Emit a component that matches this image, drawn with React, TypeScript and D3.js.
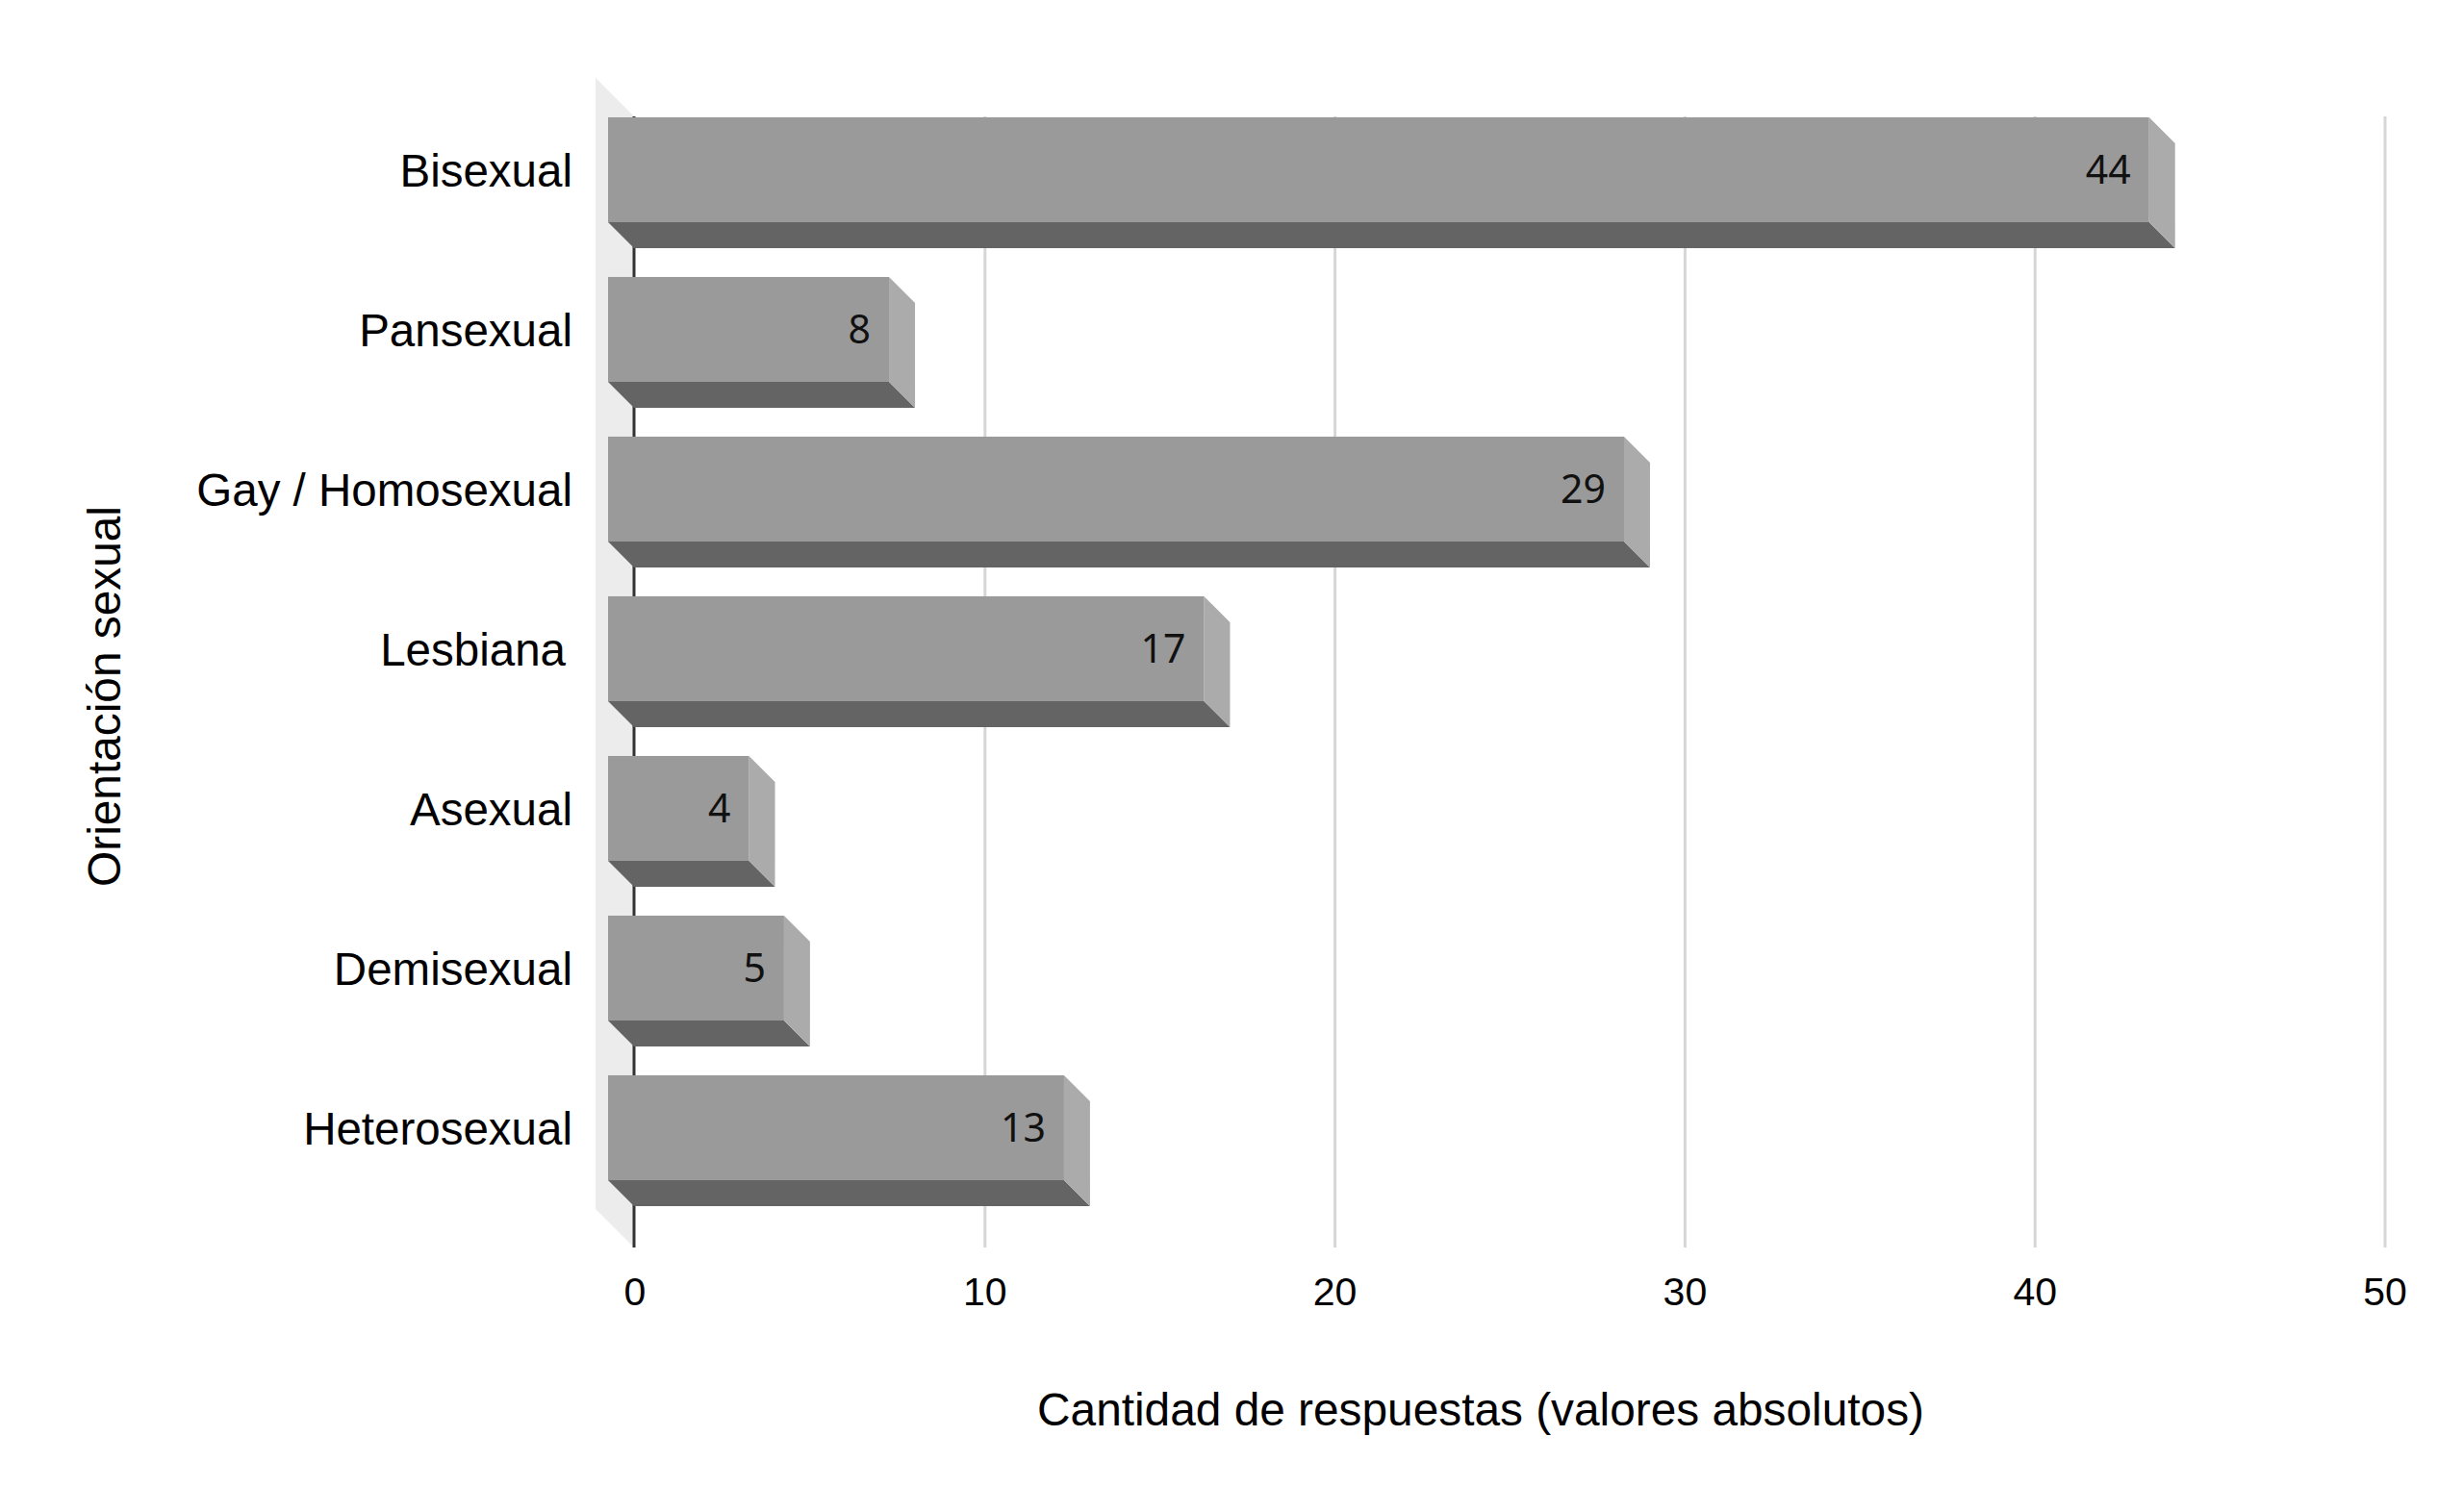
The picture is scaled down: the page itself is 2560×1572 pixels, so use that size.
import React from 'react';
import * as d3 from 'd3';

const categories = ['Bisexual', 'Pansexual', 'Gay / Homosexual', 'Lesbiana ', 'Asexual', 'Demisexual', 'Heterosexual'];
const values = [44, 8, 29, 17, 4, 5, 13];
const xTicks = [0, 10, 20, 30, 40, 50];
const xTitle = 'Cantidad de respuestas (valores absolutos)';
const yTitle = 'Orientación sexual';

const W = 2560;
const H = 1572;
const plotTop = 121;
const plotBottom = 1297;
const wallDepth = 40;
const D = 27;

export default function App() {
  const x = d3.scaleLinear().domain([0, 50]).range([660, 2479]);
  const y = d3
    .scaleBand<string>()
    .domain(categories)
    .range([120.5, 1282.5])
    .paddingInner(0.343)
    .paddingOuter(0.1715);
  const bw = y.bandwidth();
  const x0 = x(0) - 1;
  const sans = '"Liberation Sans", Arial, sans-serif';

  return (
    <svg
      width={W}
      height={H}
      viewBox={`0 0 ${W} ${H}`}
      style={{ position: 'absolute', left: 0, top: 0, background: '#fff' }}
    >
      <rect x={0} y={0} width={W} height={H} fill="#fff" />
      {/* side wall */}
      <polygon
        points={`${x0 - wallDepth},${plotTop - wallDepth} ${x0},${plotTop} ${x0},${plotBottom} ${x0 - wallDepth},${plotBottom - wallDepth}`}
        fill="#ececec"
      />
      {/* gridlines */}
      {xTicks
        .filter((t) => t !== 0)
        .map((t) => (
          <line key={t} x1={x(t)} x2={x(t)} y1={plotTop} y2={plotBottom} stroke="#d6d6d6" strokeWidth={3} />
        ))}
      <line x1={x0} x2={x0} y1={plotTop} y2={plotBottom} stroke="#333" strokeWidth={3} />
      {/* bars */}
      {categories.map((c, i) => {
        const v = values[i];
        const yt = y(c)!;
        const yb = yt + bw;
        const xs = x(0) - 1;
        const xv = x(v);
        const trailing = c.endsWith(' ');
        return (
          <g key={c}>
            <polygon
              points={`${xs - D},${yb - D} ${xv - D},${yb - D} ${xv},${yb} ${xs},${yb}`}
              fill="#646464"
            />
            <polygon
              points={`${xv - D},${yt - D} ${xv},${yt} ${xv},${yb} ${xv - D},${yb - D}`}
              fill="#ababab"
            />
            <rect x={xs - D} y={yt - D} width={xv - xs} height={bw} fill="#9a9a9a" />
            <text
              x={xv - D - 19}
              y={yt - D + bw / 2 + 14.5}
              textAnchor="end"
              fontFamily='"Noto Sans", "Open Sans", sans-serif'
              fontSize={41}
              fill="#111"
            >
              {v}
            </text>
            <text
              x={trailing ? 588 : 595}
              y={yt - D + bw / 2 + 17}
              textAnchor="end"
              fontFamily={sans}
              fontSize={47.5}
              fill="#000"
            >
              {c.trim()}
            </text>
          </g>
        );
      })}
      {/* tick labels */}
      {xTicks.map((t) => (
        <text key={t} x={x(t)} y={1357} textAnchor="middle" fontFamily={sans} fontSize={41} fill="#000">
          {t}
        </text>
      ))}
      <text x={1539} y={1482} textAnchor="middle" fontFamily={sans} fontSize={47.8} fill="#000">
        {xTitle}
      </text>
      <text
        transform={`translate(125,724) rotate(-90)`}
        textAnchor="middle"
        fontFamily={sans}
        fontSize={47.8}
        fill="#000"
      >
        {yTitle}
      </text>
    </svg>
  );
}
